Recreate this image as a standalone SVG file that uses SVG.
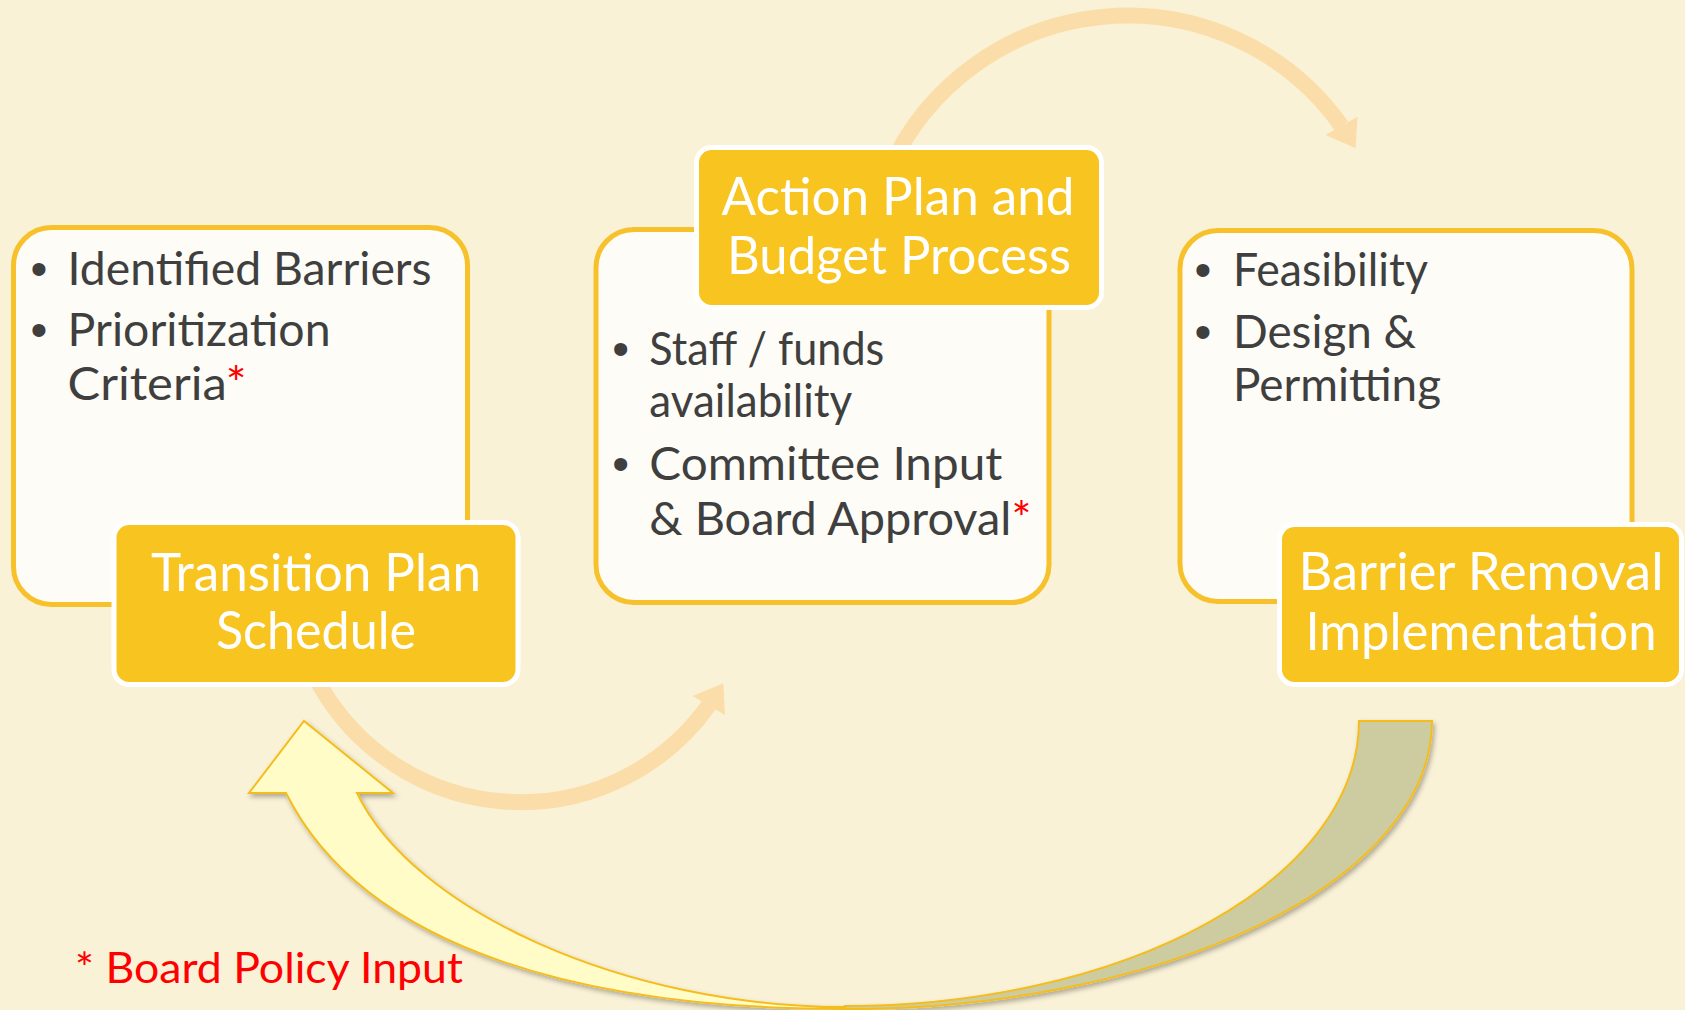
<svg xmlns="http://www.w3.org/2000/svg" width="1685" height="1010" viewBox="0 0 1685 1010">
  <style>
    .panel { fill: #FEFCF6; stroke: #F6C12B; stroke-width: 5; }
    .label { fill: #F8C420; stroke: #FFFFFF; stroke-width: 5; }
    .body { font-family: "Lato", "Liberation Sans", sans-serif; font-size: 47px; fill: #3F3F3F; }
    .bullet { font-family: "Liberation Sans", sans-serif; font-size: 48px; fill: #3F3F3F; text-anchor: middle; }
    .title { font-family: "Lato", "Liberation Sans", sans-serif; font-size: 53px; fill: #FFFFFF; text-anchor: middle; }
    .star { fill: #FF0000; }
    .flow { fill: none; stroke: #FBDDAA; stroke-width: 16; }
    .flowhead { fill: #FBDDAA; }
    .bigarrow { stroke: #F5BD1F; stroke-width: 2; stroke-linejoin: miter; }
  </style>
  <defs>
    <filter id="shadow" x="-10%" y="-10%" width="120%" height="120%">
      <feDropShadow dx="2" dy="3" stdDeviation="2.5" flood-color="#000000" flood-opacity="0.3"/>
    </filter>
  </defs>

  <rect x="0" y="0" width="1685" height="1010" fill="#FAF2D7"/>

  <g id="connectors">
    <path class="flow" d="M 889 170 A 262 262 0 0 1 1341.5 126"/>
    <polygon class="flowhead" points="1357.5,116.7 1355.7,148.3 1325.4,135"/>
    <path class="flow" d="M 312 670 A 231 231 0 0 0 709 705"/>
    <polygon class="flowhead" points="692.7,696 723.3,683.3 725,715"/>
    <g filter="url(#shadow)">
      <path class="bigarrow" fill="#CCCCA0" d="M 1432 721 A 587 288 0 0 1 845 1009 L 845 1006 A 514 285 0 0 0 1359 721 Z"/>
      <path class="bigarrow" fill="#FFFCC8" d="M 286 793 C 366.5 954 595 1009 845 1009 L 845 1007 C 625 1007 413 910 357 793 L 393 793 L 304 721 L 249 793 Z"/>
    </g>
  </g>

  <g id="node-transition">
    <rect class="panel" x="13.5" y="227.5" width="454" height="377" rx="38" ry="38"/>
    <text class="bullet" x="39" y="285">•</text>
    <text class="body" x="67.6" y="285" textLength="364" lengthAdjust="spacingAndGlyphs">Identified Barriers</text>
    <text class="bullet" x="39" y="346">•</text>
    <text class="body"><tspan x="67.6" y="346" textLength="263" lengthAdjust="spacingAndGlyphs">Prioritization</tspan><tspan x="67.6" y="400" textLength="179" lengthAdjust="spacingAndGlyphs">Criteria<tspan class="star">*</tspan></tspan></text>
    <rect class="label" x="114" y="522.5" width="404" height="162" rx="15" ry="15"/>
    <text class="title"><tspan x="316" y="591" textLength="330" lengthAdjust="spacingAndGlyphs">Transition Plan</tspan><tspan x="316" y="649" textLength="200" lengthAdjust="spacingAndGlyphs">Schedule</tspan></text>
  </g>

  <g id="node-action">
    <rect class="panel" x="596" y="229.5" width="453" height="373" rx="38" ry="38"/>
    <rect class="label" x="696.5" y="147.5" width="405" height="160" rx="15" ry="15"/>
    <text class="title"><tspan x="898" y="215" textLength="353" lengthAdjust="spacingAndGlyphs">Action Plan and</tspan><tspan x="899" y="274" textLength="344" lengthAdjust="spacingAndGlyphs">Budget Process</tspan></text>
    <text class="bullet" x="620.6" y="365">•</text>
    <text class="body"><tspan x="649.3" y="365" textLength="235" lengthAdjust="spacingAndGlyphs">Staff / funds</tspan><tspan x="649.3" y="417" textLength="203" lengthAdjust="spacingAndGlyphs">availability</tspan></text>
    <text class="bullet" x="620.6" y="480">•</text>
    <text class="body"><tspan x="649.3" y="480" textLength="353" lengthAdjust="spacingAndGlyphs">Committee Input</tspan><tspan x="649.3" y="535" textLength="382" lengthAdjust="spacingAndGlyphs">&amp; Board Approval<tspan class="star">*</tspan></tspan></text>
  </g>

  <g id="node-barrier">
    <rect class="panel" x="1180" y="230.5" width="452" height="371" rx="38" ry="38"/>
    <text class="bullet" x="1203" y="286">•</text>
    <text class="body" x="1233" y="286" textLength="195" lengthAdjust="spacingAndGlyphs">Feasibility</text>
    <text class="bullet" x="1203" y="348">•</text>
    <text class="body"><tspan x="1233" y="348" textLength="183" lengthAdjust="spacingAndGlyphs">Design &amp;</tspan><tspan x="1233" y="401" textLength="208" lengthAdjust="spacingAndGlyphs">Permitting</tspan></text>
    <rect class="label" x="1279.5" y="524.5" width="402" height="160" rx="15" ry="15"/>
    <text class="title"><tspan x="1481" y="590" textLength="365" lengthAdjust="spacingAndGlyphs">Barrier Removal</tspan><tspan x="1481" y="650" textLength="351" lengthAdjust="spacingAndGlyphs">Implementation</tspan></text>
  </g>

  <g id="note">
    <text x="75" y="983" font-family="Lato, 'Liberation Sans', sans-serif" font-size="42" fill="#FF0000" textLength="388" lengthAdjust="spacingAndGlyphs">* Board Policy Input</text>
  </g>
</svg>
